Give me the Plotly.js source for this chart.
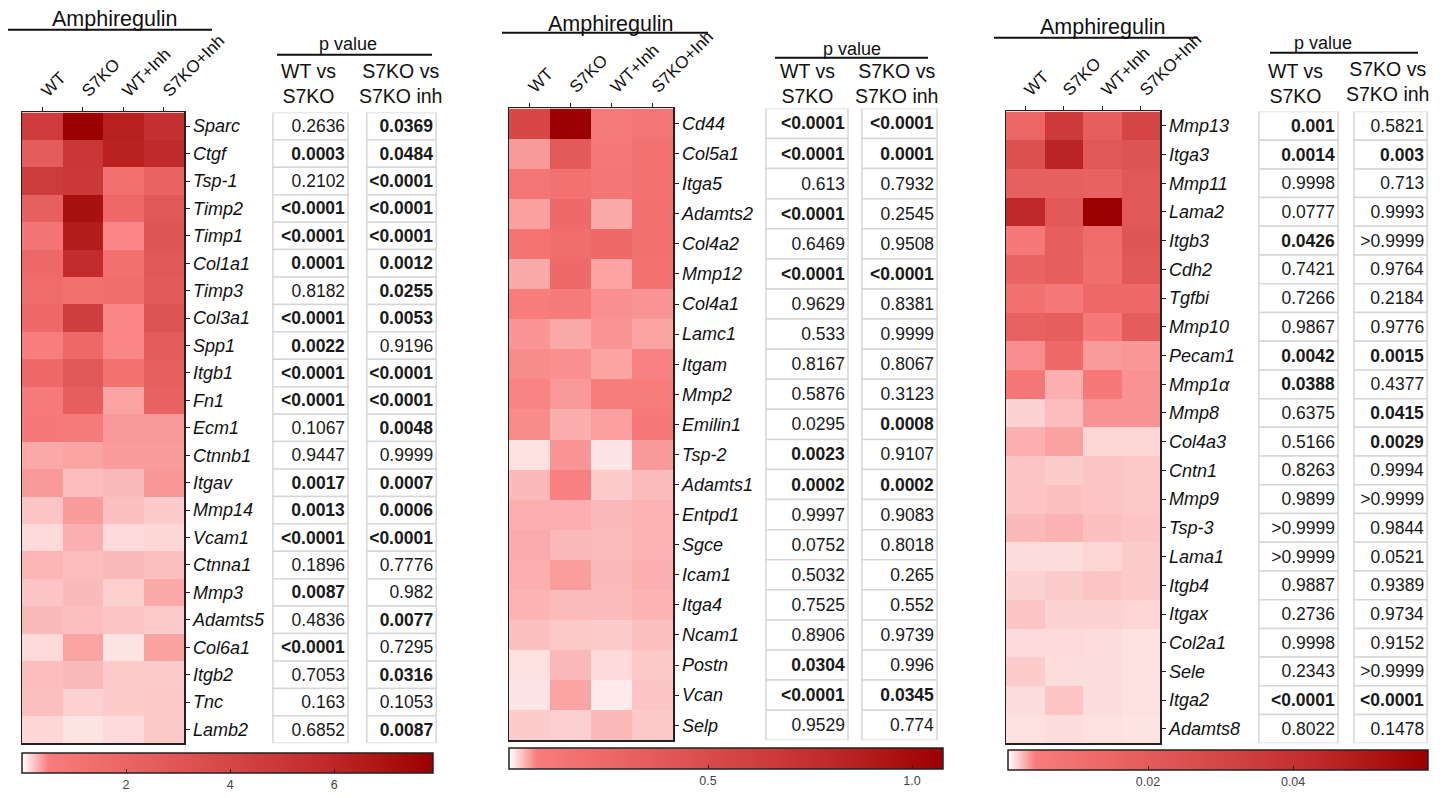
<!DOCTYPE html>
<html><head><meta charset="utf-8">
<script src="https://cdn.plot.ly/plotly-3.0.1.min.js"></script>
<style>html,body{margin:0;padding:0;background:#fff}#chart{width:1447px;height:798px}</style>
</head><body><div id="chart"></div>
<script>
// ---------- data ----------
const groups = ['WT', 'S7KO', 'WT+Inh', 'S7KO+Inh'];

const genes1 = ['Sparc','Ctgf','Tsp-1','Timp2','Timp1','Col1a1','Timp3','Col3a1','Spp1','Itgb1','Fn1','Ecm1','Ctnnb1','Itgav','Mmp14','Vcam1','Ctnna1','Mmp3','Adamts5','Col6a1','Itgb2','Tnc','Lamb2'];
const expr1 = [
  [4.71,7.85,6.32,5.41],[2.57,5.03,6.22,5.80],[4.65,4.91,1.28,2.04],[2.30,7.11,1.78,2.83],
  [1.02,6.52,0.47,2.96],[1.78,5.67,1.28,2.83],[1.53,1.28,1.41,2.70],[1.66,4.52,0.47,3.23],
  [0.51,1.78,0.47,2.57],[1.66,2.83,1.15,2.30],[0.64,2.44,0.36,2.17],[0.77,0.64,0.40,0.40],
  [0.34,0.36,0.39,0.39],[0.40,0.26,0.27,0.41],[0.23,0.39,0.25,0.20],[0.15,0.31,0.15,0.16],
  [0.29,0.26,0.27,0.25],[0.23,0.27,0.19,0.34],[0.27,0.25,0.23,0.20],[0.14,0.36,0.11,0.37],
  [0.26,0.27,0.20,0.20],[0.25,0.18,0.20,0.22],[0.16,0.11,0.14,0.21]
];
const pWT1  = ['0.2636','0.0003','0.2102','<0.0001','<0.0001','0.0001','0.8182','<0.0001','0.0022','<0.0001','<0.0001','0.1067','0.9447','0.0017','0.0013','<0.0001','0.1896','0.0087','0.4836','<0.0001','0.7053','0.163','0.6852'];
const bWT1  = [0,1,0,1,1,1,0,1,1,1,1,0,0,1,1,1,0,1,0,1,0,0,0];
const pInh1 = ['0.0369','0.0484','<0.0001','<0.0001','<0.0001','0.0012','0.0255','0.0053','0.9196','<0.0001','<0.0001','0.0048','0.9999','0.0007','0.0006','<0.0001','0.7776','0.982','0.0077','0.7295','0.0316','0.1053','0.0087'];
const bInh1 = [1,1,1,1,1,1,1,1,0,1,1,1,0,1,1,1,0,0,1,0,1,0,1];

const genes2 = ['Cd44','Col5a1','Itga5','Adamts2','Col4a2','Mmp12','Col4a1','Lamc1','Itgam','Mmp2','Emilin1','Tsp-2','Adamts1','Entpd1','Sgce','Icam1','Itga4','Ncam1','Postn','Vcan','Selp'];
const expr2 = [
  [0.535,1.07,0.098,0.141],[0.066,0.376,0.115,0.166],[0.141,0.166,0.141,0.166],[0.062,0.235,0.058,0.184],
  [0.149,0.201,0.235,0.184],[0.058,0.235,0.060,0.166],[0.081,0.098,0.071,0.068],[0.068,0.058,0.068,0.060],
  [0.073,0.071,0.060,0.078],[0.077,0.066,0.081,0.081],[0.073,0.055,0.062,0.115],[0.028,0.068,0.026,0.066],
  [0.049,0.079,0.039,0.048],[0.054,0.054,0.049,0.052],[0.057,0.049,0.048,0.052],[0.054,0.064,0.049,0.054],
  [0.052,0.048,0.048,0.052],[0.045,0.041,0.039,0.045],[0.028,0.049,0.032,0.041],[0.026,0.060,0.023,0.043],
  [0.039,0.037,0.049,0.041]
];
const pWT2  = ['<0.0001','<0.0001','0.613','<0.0001','0.6469','<0.0001','0.9629','0.533','0.8167','0.5876','0.0295','0.0023','0.0002','0.9997','0.0752','0.5032','0.7525','0.8906','0.0304','<0.0001','0.9529'];
const bWT2  = [1,1,0,1,0,1,0,0,0,0,0,1,1,0,0,0,0,0,1,1,0];
const pInh2 = ['<0.0001','0.0001','0.7932','0.2545','0.9508','<0.0001','0.8381','0.9999','0.8067','0.3123','0.0008','0.9107','0.0002','0.9083','0.8018','0.265','0.552','0.9739','0.996','0.0345','0.774'];
const bInh2 = [1,1,0,0,0,1,0,0,0,0,1,0,1,0,0,0,0,0,0,1,0];

const genes3 = ['Mmp13','Itga3','Mmp11','Lama2','Itgb3','Cdh2','Tgfbi','Mmp10','Pecam1','Mmp1\u03b1','Mmp8','Col4a3','Cntn1','Mmp9','Tsp-3','Lama1','Itgb4','Itgax','Col2a1','Sele','Itga2','Adamts8'];
const expr3 = [
  [0.0147,0.0357,0.0185,0.0306],[0.0253,0.0456,0.0214,0.0234],[0.0176,0.0176,0.0166,0.0214],[0.0441,0.0214,0.0586,0.0214],
  [0.0063,0.0185,0.0119,0.0224],[0.0156,0.0185,0.0110,0.0214],[0.0101,0.0063,0.0138,0.0129],[0.0166,0.0185,0.0063,0.0195],
  [0.0040,0.0129,0.0036,0.0037],[0.0072,0.0030,0.0063,0.0038],[0.0020,0.0026,0.0038,0.0038],[0.0030,0.0034,0.0019,0.0019],
  [0.0024,0.0022,0.0024,0.0023],[0.0024,0.0025,0.0024,0.0023],[0.0027,0.0029,0.0025,0.0024],[0.0017,0.0017,0.0019,0.0022],
  [0.0020,0.0022,0.0024,0.0022],[0.0024,0.0020,0.0020,0.0019],[0.0018,0.0018,0.0017,0.0016],[0.0022,0.0017,0.0017,0.0016],
  [0.0017,0.0024,0.0017,0.0016],[0.0016,0.0017,0.0016,0.0015]
];
const pWT3  = ['0.001','0.0014','0.9998','0.0777','0.0426','0.7421','0.7266','0.9867','0.0042','0.0388','0.6375','0.5166','0.8263','0.9899','>0.9999','>0.9999','0.9887','0.2736','0.9998','0.2343','<0.0001','0.8022'];
const bWT3  = [1,1,0,0,1,0,0,0,1,1,0,0,0,0,0,0,0,0,0,0,1,0];
const pInh3 = ['0.5821','0.003','0.713','0.9993','>0.9999','0.9764','0.2184','0.9776','0.0015','0.4377','0.0415','0.0029','0.9994','>0.9999','0.9844','0.0521','0.9389','0.9734','0.9152','>0.9999','<0.0001','0.1478'];
const bInh3 = [0,1,0,0,0,0,0,0,1,0,1,1,0,0,0,0,0,0,0,0,1,0];

const scaleRange1 = [0, 7.9],     cbTicks1 = [2, 4, 6],       cbText1 = ['2','4','6'];
const scaleRange2 = [0.012, 1.076], cbTicks2 = [0.5, 1.0],    cbText2 = ['0.5','1.0'];
const scaleRange3 = [0.0007, 0.0586], cbTicks3 = [0.02, 0.04], cbText3 = ['0.02','0.04'];

const panelTitle = 'Amphiregulin';
const pTitle = 'p value';
const colHeadA = 'WT vs<br>S7KO';
const colHeadB = 'S7KO vs<br>S7KO inh';

// ---------- layout geometry (pixels) ----------
const W = 1447, H = 798;
const fx = p => p / W, fy = p => 1 - p / H;
const FONT = 'Liberation Sans, Arial, sans-serif';
const cscale = [[0,'#FFFFFF'],[0.065,'#F87C7C'],[0.25,'#EB6565'],[0.5,'#D54747'],[0.75,'#BF2828'],[1,'#9B0000']];

const panels = [
  {genes:genes1, z:expr1, pA:pWT1, bA:bWT1, pB:pInh1, bB:bInh1, rng:scaleRange1, tv:cbTicks1, tt:cbText1,
   heat:[22,184], rows:[113,747], colA:[272,349], colB:[366,437], cb:[22,433,757,777],
   ttl:[114,19], ttlLine:[8,212,30], pv:[348,44], pvLine:[277,432,55], hA:[308,84], hB:[400,84]},
  {genes:genes2, z:expr2, pA:pWT2, bA:bWT2, pB:pInh2, bB:bInh2, rng:scaleRange2, tv:cbTicks2, tt:cbText2,
   heat:[509,673], rows:[109,744], colA:[765,849], colB:[861,938], cb:[509,943,752,773],
   ttl:[610,24], ttlLine:[502,708,33], pv:[852,49], pvLine:[775,928,58], hA:[807,84], hB:[896,84]},
  {genes:genes3, z:expr3, pA:pWT3, bA:bWT3, pB:pInh3, bB:bInh3, rng:scaleRange3, tv:cbTicks3, tt:cbText3,
   heat:[1006,1160], rows:[112,747], colA:[1258,1339], colB:[1353,1428], cb:[1008,1428,754,774],
   ttl:[1102,27], ttlLine:[994,1198,38], pv:[1323,43], pvLine:[1270,1418,53], hA:[1295,84], hB:[1387,82]}
];

const data = [];
const layout = {
  width: W, height: H, margin: {l:0, r:0, t:0, b:0},
  paper_bgcolor: '#fff', plot_bgcolor: '#fff',
  font: {family: FONT, color: '#111'},
  showlegend: false, annotations: [], shapes: []
};

panels.forEach((P, i) => {
  const hx = 3*i + 1, ax = 3*i + 2, bx = 3*i + 3, yy = i + 1;
  const xs = n => (n === 1 ? 'x' : 'x' + n), ys = n => (n === 1 ? 'y' : 'y' + n);
  const xk = n => (n === 1 ? 'xaxis' : 'xaxis' + n), yk = n => (n === 1 ? 'yaxis' : 'yaxis' + n);

  data.push({
    type: 'heatmap', x: groups, y: P.genes, z: P.z,
    zmin: P.rng[0], zmax: P.rng[1], colorscale: cscale,
    xaxis: xs(hx), yaxis: ys(yy), hoverinfo: 'skip',
    colorbar: {
      orientation: 'h', x: fx(P.cb[0]), xanchor: 'left', y: fy(P.cb[2]), yanchor: 'top',
      len: P.cb[1] - P.cb[0], lenmode: 'pixels', thickness: P.cb[3] - P.cb[2], thicknessmode: 'pixels',
      xpad: 0, ypad: 0, outlinewidth: 1.5, outlinecolor: '#222',
      ticks: 'inside', ticklen: 4, tickcolor: '#222', tickwidth: 1,
      tickvals: P.tv, ticktext: P.tt, tickfont: {size: 12.5, color: '#444', family: FONT}
    }
  });

  [[ax, P.pA, P.bA], [bx, P.pB, P.bB]].forEach(([xn, vals, bold]) => {
    data.push({
      type: 'bar', orientation: 'h', y: P.genes, x: vals.map(() => 1), width: 1,
      marker: {color: '#ffffff', line: {color: '#d6d6d6', width: 1.5}},
      text: vals.map((v, j) => bold[j] ? '<b>' + v + '</b>' : v),
      textposition: 'inside', insidetextanchor: 'end', textangle: 0, constraintext: 'none',
      insidetextfont: {family: FONT, size: 17.5, color: '#1a1a1a'},
      xaxis: xs(xn), yaxis: ys(yy), hoverinfo: 'skip'
    });
  });

  layout[xk(hx)] = {
    domain: [fx(P.heat[0]), fx(P.heat[1])], anchor: ys(yy), side: 'top',
    tickangle: -45, ticks: 'outside', ticklen: 4, tickcolor: '#222',
    showline: true, mirror: true, linecolor: '#222', linewidth: 1.5,
    showgrid: false, zeroline: false, tickfont: {size: 17, color: '#111'}, fixedrange: true
  };
  layout[yk(yy)] = {
    domain: [fy(P.rows[1]), fy(P.rows[0])], anchor: xs(hx), side: 'right',
    autorange: 'reversed', ticks: 'outside', ticklen: 4, tickcolor: '#222',
    showline: true, mirror: true, linecolor: '#222', linewidth: 1.5,
    showgrid: false, zeroline: false, fixedrange: true,
    tickfont: {size: 18, style: 'italic', color: '#111'}
  };
  [[ax, P.colA], [bx, P.colB]].forEach(([xn, dom]) => {
    layout[xk(xn)] = {domain: [fx(dom[0]), fx(dom[1])], anchor: ys(yy), range: [-0.012, 1.012],
      visible: false, fixedrange: true};
  });

  const ann = (txt, p, size) => layout.annotations.push({
    text: txt, xref: 'paper', yref: 'paper', x: fx(p[0]), y: fy(p[1]),
    xanchor: 'center', yanchor: 'middle', showarrow: false, font: {size: size, color: '#111', family: FONT}
  });
  ann(panelTitle, P.ttl, 21.5);
  ann(pTitle, P.pv, 18);
  ann(colHeadA, P.hA, 19.5);
  ann(colHeadB, P.hB, 19.5);
  [P.ttlLine, P.pvLine].forEach(L => layout.shapes.push({
    type: 'line', xref: 'paper', yref: 'paper', x0: fx(L[0]), x1: fx(L[1]), y0: fy(L[2]), y1: fy(L[2]),
    line: {color: '#111', width: 2}
  }));
});

Plotly.newPlot('chart', data, layout, {staticPlot: true, displayModeBar: false});
</script>
</body></html>
